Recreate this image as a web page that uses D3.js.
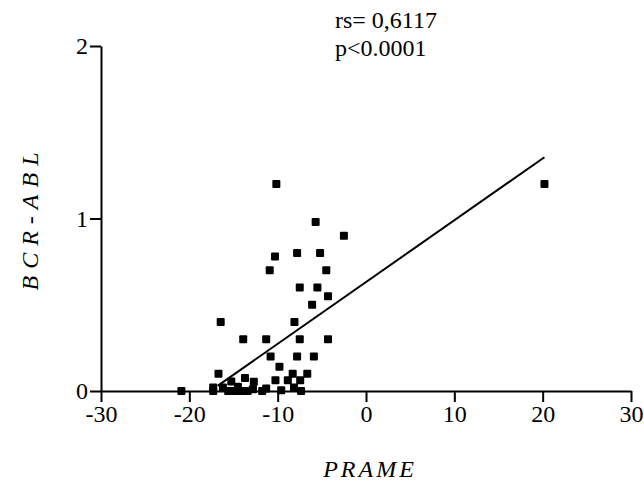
<!DOCTYPE html>
<html><head><meta charset="utf-8">
<script src="https://cdn.jsdelivr.net/npm/d3@7"></script>
<style>body{margin:0;background:#fff}svg{display:block}</style>
</head><body>
<script>
const prame = [-20.9,-17.3,-17.3,-16.7,-16.45,-16.2,-15.6,-15.25,-14.8,-14.5,-14.1,-13.9,-13.7,-13.4,-12.7,-12.8,-11.75,-11.3,-11.3,-10.9,-10.8,-10.3,-10.25,-10.15,-9.8,-9.6,-8.85,-8.3,-8.1,-8.15,-7.8,-7.8,-7.5,-7.5,-7.45,-7.35,-6.65,-6.1,-5.9,-5.7,-5.5,-5.2,-4.5,-4.3,-4.3,-2.5,20.2];
const bcrabl = [0,0,0.02,0.10,0.40,0.02,0,0.055,0,0.025,0,0.30,0.075,0,0.053,0.01,0,0.015,0.30,0.70,0.20,0.78,0.062,1.20,0.14,0.005,0.062,0.10,0.40,0.02,0.80,0.20,0.60,0.30,0.062,0,0.10,0.50,0.20,0.98,0.60,0.80,0.70,0.55,0.30,0.90,1.20];
const fitX = [-16.8, 20.2];
const fitY = [0.03, 1.355];
const xTicks = [-30,-20,-10,0,10,20,30];
const yTicks = [0,1,2];
const statLines = ["rs= 0,6117", "p<0.0001"];

const W = 644, H = 481;
const svg = d3.select("body").append("svg").attr("width", W).attr("height", H);
const x = d3.scaleLinear().domain([-30,30]).range([101,631]);
const y = d3.scaleLinear().domain([0,2]).range([391,46]);
const font = "'Liberation Serif','Times New Roman',serif";

const xAxis = svg.append("g").attr("transform","translate(0,391)")
  .call(d3.axisBottom(x).tickValues(xTicks).tickSize(11).tickPadding(3).tickSizeOuter(0).tickFormat(d3.format("d")));
const yAxis = svg.append("g").attr("transform","translate(101,0)")
  .call(d3.axisLeft(y).tickValues(yTicks).tickSize(11).tickPadding(2).tickSizeOuter(0).tickFormat(d3.format("d")));
[xAxis,yAxis].forEach(g=>{
  g.selectAll("path.domain").attr("stroke","#000").attr("stroke-width",2);
  g.selectAll(".tick line").attr("stroke","#000").attr("stroke-width",2);
  g.selectAll(".tick text").attr("fill","#000").style("font-family",font).style("font-size","24px");
});
xAxis.selectAll(".tick text").text(d => d < 0 ? "-" + Math.abs(d) : d);

svg.append("line")
  .attr("x1", x(fitX[0])).attr("y1", y(fitY[0]))
  .attr("x2", x(fitX[1])).attr("y2", y(fitY[1]))
  .attr("stroke","#000").attr("stroke-width",2);

const s = 8;
svg.append("g").selectAll("rect").data(prame).join("rect")
  .attr("x",(d,i)=>x(d)-s/2).attr("y",(d,i)=>y(bcrabl[i])-s/2)
  .attr("width",s).attr("height",s).attr("rx",1).attr("fill","#000");

svg.append("text").attr("x",370).attr("y",477).attr("text-anchor","middle")
  .style("font-family",font).style("font-size","24px").style("font-style","italic")
  .style("letter-spacing","3px").text("PRAME");
svg.append("text").attr("transform","translate(38,218) rotate(-90)").attr("text-anchor","middle")
  .style("font-family",font).style("font-size","24px").style("font-style","italic")
  .style("letter-spacing","7px").text("BCR-ABL");

svg.append("g").selectAll("text").data(statLines).join("text")
  .attr("x",335).attr("y",(d,i)=>28+i*28)
  .style("font-family",font).style("font-size","24px").text(d=>d);
</script>
</body></html>
